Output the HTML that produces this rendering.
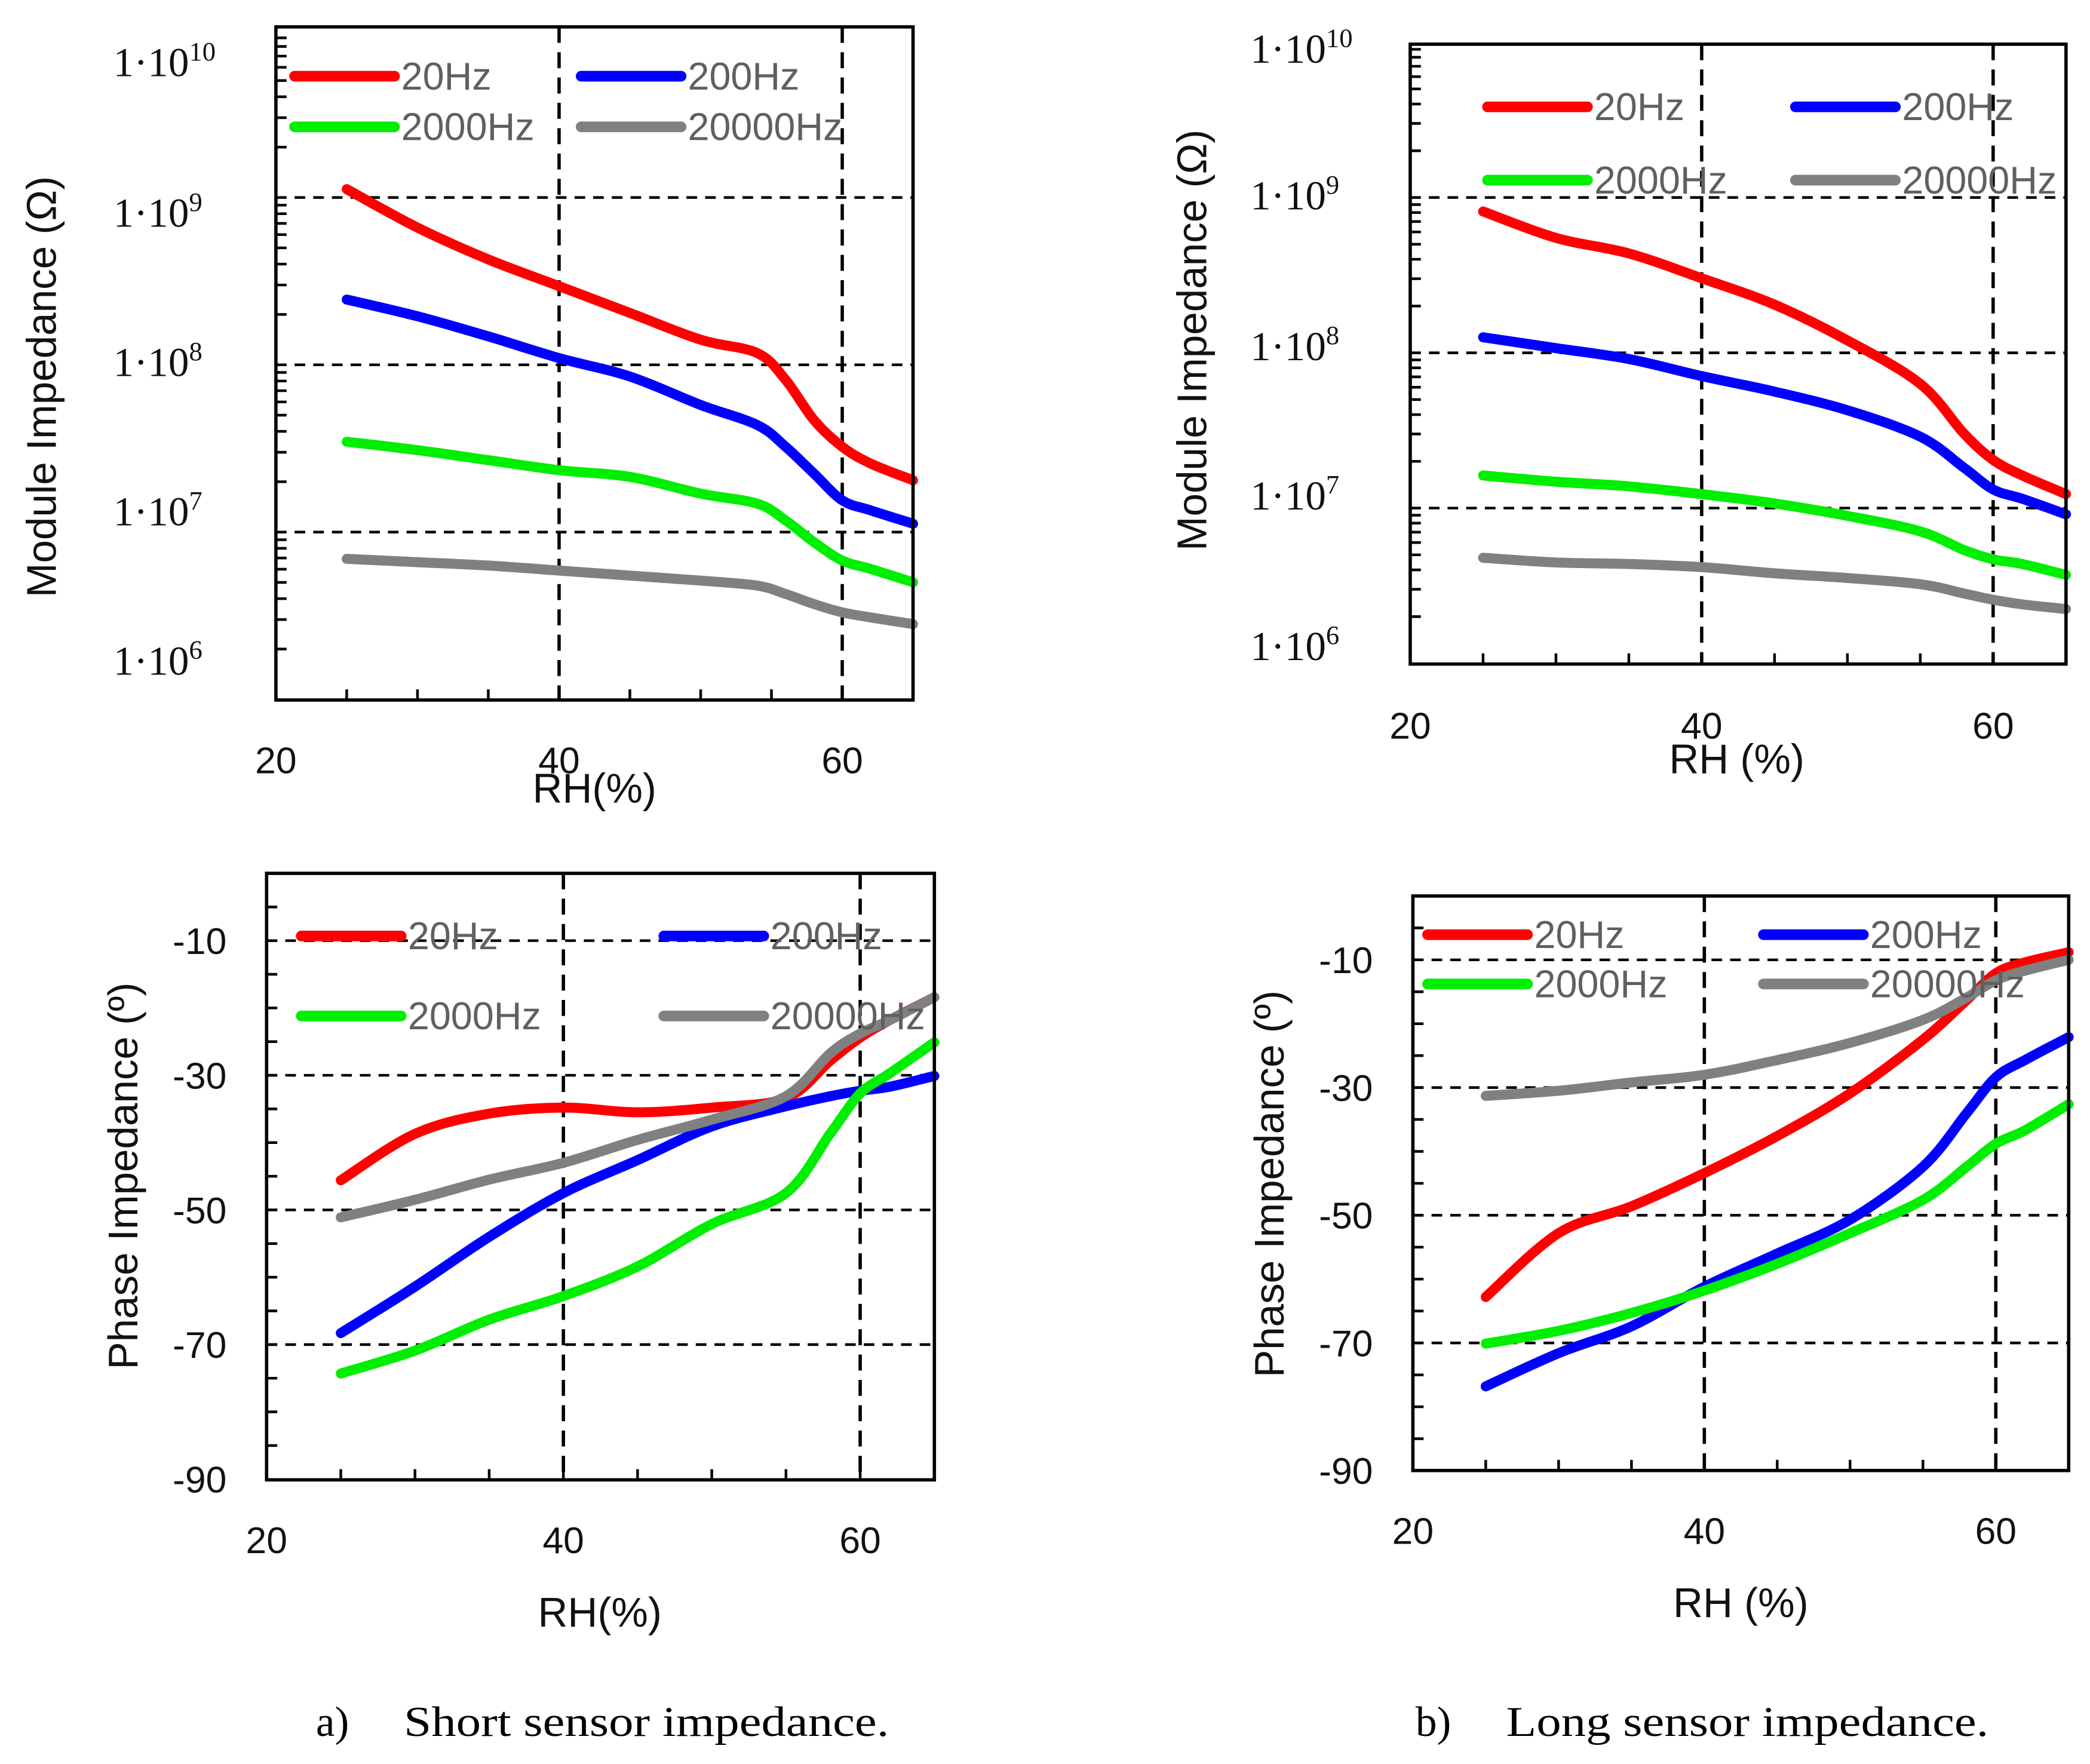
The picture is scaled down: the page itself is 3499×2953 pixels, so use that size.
<!DOCTYPE html>
<html><head><meta charset="utf-8"><style>
html,body{margin:0;padding:0;background:#fff;}
svg{display:block;}
</style></head><body>
<svg id="fig" width="3499" height="2953" viewBox="0 0 1568 1323" xmlns="http://www.w3.org/2000/svg">
<rect width="1568" height="1323" fill="#fff"/>
<g id="root"></g>
<text x="237" y="1302" font-family="Liberation Serif, serif" font-size="32" fill="#000">a)</text>
<text x="303" y="1302" font-family="Liberation Serif, serif" font-size="32" fill="#000" textLength="364" lengthAdjust="spacingAndGlyphs">Short sensor impedance.</text>
<text x="1062" y="1302" font-family="Liberation Serif, serif" font-size="32" fill="#000">b)</text>
<text x="1130" y="1302" font-family="Liberation Serif, serif" font-size="32" fill="#000" textLength="362" lengthAdjust="spacingAndGlyphs">Long sensor impedance.</text>
</svg>
<script>
const rhValuesA = [25,30,35,40,45,50,54,56,58,60,62,65];
const logRedA = [9.05,8.82,8.63,8.47,8.31,8.15,8.07,7.91,7.67,7.51,7.41,7.31];
const logBlueA = [8.39,8.29,8.17,8.04,7.93,7.76,7.64,7.51,7.35,7.19,7.13,7.05];
const logGreenA = [7.54,7.49,7.43,7.37,7.33,7.23,7.17,7.07,6.94,6.83,6.78,6.70];
const logGrayA = [6.84,6.82,6.80,6.77,6.74,6.71,6.68,6.63,6.57,6.52,6.49,6.45];

const rhValuesB = [25,30,35,40,45,50,55,58,60,62,65];
const logRedB = [8.91,8.74,8.64,8.48,8.31,8.08,7.80,7.48,7.31,7.21,7.09];
const logBlueB = [8.10,8.03,7.96,7.85,7.75,7.63,7.46,7.26,7.12,7.06,6.96];
const logGreenB = [7.21,7.17,7.14,7.09,7.03,6.95,6.85,6.73,6.67,6.64,6.57];
const logGrayB = [6.68,6.65,6.64,6.62,6.58,6.55,6.51,6.45,6.41,6.38,6.35];

const rhValuesC = [25,30,35,40,45,50,55,58,60,62,65];
const phaseRedC = [-45.6,-38.7,-35.7,-34.8,-35.5,-34.8,-33.4,-27.8,-24.4,-21.8,-18.4];
const phaseBlueC = [-68.3,-61.4,-54.0,-47.5,-42.6,-37.6,-34.6,-33.1,-32.3,-31.7,-30.1];
const phaseGreenC = [-74.3,-70.9,-66.3,-62.8,-58.4,-52.1,-47.5,-38.6,-32.7,-29.7,-25.1];
const phaseGrayC = [-51.1,-48.5,-45.5,-43.0,-39.6,-36.6,-33.1,-26.7,-23.8,-21.8,-18.4];

const rhValuesD = [25,30,35,40,45,50,55,58,60,62,65];
const phaseRedD = [-62.8,-52.8,-48.6,-43.4,-37.6,-30.9,-22.5,-16.3,-12.1,-10.4,-8.8];
const phaseBlueD = [-76.8,-71.6,-67.4,-61.2,-56.0,-50.7,-42.4,-34.0,-28.4,-25.7,-22.1];
const phaseGreenD = [-70.1,-68.1,-65.3,-61.8,-57.6,-52.8,-47.6,-42.4,-38.8,-36.7,-32.6];
const phaseGrayD = [-31.3,-30.5,-29.2,-28.0,-25.7,-23.0,-19.4,-15.9,-13.2,-11.7,-10.0];

const xTickLabels = ["20","40","60"];
const xTickValues = [20,40,60];
const logTickExps = [10,9,8,7,6];
const phaseTickValues = [-10,-30,-50,-70,-90];
const seriesNames = ["20Hz","200Hz","2000Hz","20000Hz"];

const NS="http://www.w3.org/2000/svg";
const root=document.getElementById('root');
const COLORS=["#ff0000","#0000ff","#00ee00","#808080"];
const SANS="Liberation Sans, DejaVu Sans, sans-serif";
function mk(tag,attrs,parent){const e=document.createElementNS(NS,tag);for(const k in attrs)e.setAttribute(k,attrs[k]);(parent||root).appendChild(e);return e;}
function smooth(pts){let d=`M${pts[0][0]},${pts[0][1]}`;for(let i=0;i<pts.length-1;i++){const p0=pts[i-1]||pts[i],p1=pts[i],p2=pts[i+1],p3=pts[i+2]||p2;const c1=[p1[0]+(p2[0]-p0[0])/6,p1[1]+(p2[1]-p0[1])/6],c2=[p2[0]-(p3[0]-p1[0])/6,p2[1]-(p3[1]-p1[1])/6];d+=` C${c1[0]},${c1[1]} ${c2[0]},${c2[1]} ${p2[0]},${p2[1]}`;}return d;}

function panel(cfg){
  const g=mk('g',{});
  
  
  const X=v=>cfg.x0+(v-20)*(cfg.x1-cfg.x0)/45;
  const Y=cfg.Y;
  cfg.grids.forEach(v=>{const y=Y(v);const l=mk('line',{x1:cfg.x0,x2:cfg.x1,y1:y,y2:y,stroke:'#000','stroke-width':2,'stroke-dasharray':'8,6'},g);
    
    });
  [40,60].forEach(v=>{const x=X(v);const l=mk('line',{x1:x,x2:x,y1:cfg.y0,y2:cfg.y1,stroke:'#000','stroke-width':2.5,'stroke-dasharray':'12,7'},g);
    
    });
  for(let v=25;v<65;v+=5){const x=X(v);mk('line',{x1:x,x2:x,y1:cfg.y1,y2:cfg.y1-8,stroke:'#000','stroke-width':2},g);}
  cfg.yMinor.forEach(y=>mk('line',{x1:cfg.x0,x2:cfg.x0+8,y1:y,y2:y,stroke:'#000','stroke-width':2},g));
  cfg.series.forEach((s,i)=>{const p=mk('path',{d:smooth(cfg.rh.map((r,j)=>[X(r),Y(s[j])])),fill:'none',stroke:COLORS[i],'stroke-width':7.5,'stroke-linecap':'round','stroke-linejoin':'round'},g);
    
    });
  const fr=mk('rect',{x:cfg.x0,y:cfg.y0,width:cfg.x1-cfg.x0,height:cfg.y1-cfg.y0,fill:'none',stroke:'#000','stroke-width':2.5},g);
  
  
  cfg.legend.forEach((L,i)=>{const lg=mk('g',{},g);
    
    
    mk('line',{x1:L[0],x2:L[0]+75,y1:L[1],y2:L[1],stroke:COLORS[i],'stroke-width':8,'stroke-linecap':'round'},lg);
    const t=mk('text',{x:L[0]+80,y:L[1]+10,'font-family':SANS,'font-size':29,fill:'#606060'},lg);t.textContent=seriesNames[i];});
  xTickValues.forEach((v,i)=>{const t=mk('text',{x:X(v),y:cfg.xly,'text-anchor':'middle','font-family':SANS,'font-size':28,fill:'#111'},g);t.textContent=xTickLabels[i];
    
    });
  const xt=mk('text',{x:cfg.xt[0],y:cfg.xt[1],'text-anchor':'middle','font-family':SANS,'font-size':31,fill:'#111'},g);xt.textContent=cfg.xtitle;
  
  
  const yt=mk('text',{x:0,y:0,transform:`translate(${cfg.yt[0]},${cfg.yt[1]}) rotate(-90)`,'text-anchor':'middle','font-family':SANS,'font-size':31,fill:'#111'},g);yt.textContent=cfg.ytitle;
  
  
  cfg.ylabels(g);
}

function logMinor(Y,lo,hi){const a=[];for(let e=lo;e<hi;e++)for(let m=2;m<=9;m++)a.push(Y(e+Math.log10(m)));return a;}
function logLabels(xr,ys){return g=>{logTickExps.forEach((e,i)=>{const t=mk('text',{x:xr,y:ys[i],'font-family':'Liberation Serif, serif','font-size':31,fill:'#111'},g);
  
  
  t.appendChild(document.createTextNode('1·10'));const s=document.createElementNS(NS,'tspan');s.setAttribute('dy','-12');s.setAttribute('font-size','20');s.textContent=e;t.appendChild(s);});};}
function phaseLabels(xr,Y){return g=>{phaseTickValues.forEach(v=>{const t=mk('text',{x:xr,y:Y(v)+10,'text-anchor':'end','font-family':SANS,'font-size':28,fill:'#111'},g);t.textContent=v;
  
  });};}

(()=>{const Y=v=>148-(v-9)*125.5;
panel({name:'panel-a-module',x0:207,x1:685,y0:20,y1:525,Y,rh:rhValuesA,series:[logRedA,logBlueA,logGreenA,logGrayA],
grids:[9,8,7],yMinor:logMinor(Y,6,10),legend:[[221,57],[436,57],[221,95],[436,95]],xly:580,xt:[446,602],xtitle:'RH(%)',
yt:[42,290],ytitle:'Module Impedance (Ω)',ylabels:logLabels(85,[57,170,282,394,506])});})();
(()=>{const Y=v=>148-(v-9)*116.5;
panel({name:'panel-b-module',x0:1058,x1:1550,y0:33,y1:498,Y,rh:rhValuesB,series:[logRedB,logBlueB,logGreenB,logGrayB],
grids:[9,8,7],yMinor:logMinor(Y,6,10),legend:[[1116,80],[1347,80],[1116,135],[1347,135]],xly:554,xt:[1303,580],xtitle:'RH (%)',
yt:[905,255],ytitle:'Module Impedance (Ω)',ylabels:logLabels(938,[47,157,270,382,495])});})();
(()=>{const Y=v=>655-v*5.05;
const minor=[];for(let v=-5;v>-90;v-=5)minor.push(Y(v));
panel({name:'panel-c-phase',x0:200,x1:701,y0:655,y1:1110,Y,rh:rhValuesC,series:[phaseRedC,phaseBlueC,phaseGreenC,phaseGrayC],
grids:[-10,-30,-50,-70],yMinor:minor,legend:[[226,702],[498,702],[226,762],[498,762]],xly:1165,xt:[450,1220],xtitle:'RH(%)',
yt:[103,882],ytitle:'Phase Impedance (º)',ylabels:phaseLabels(170,Y)});})();
(()=>{const Y=v=>672-v*4.79;
const minor=[];for(let v=-5;v>-90;v-=5)minor.push(Y(v));
panel({name:'panel-d-phase',x0:1060,x1:1552,y0:672,y1:1103,Y,rh:rhValuesD,series:[phaseRedD,phaseBlueD,phaseGreenD,phaseGrayD],
grids:[-10,-30,-50,-70],yMinor:minor,legend:[[1071,701],[1323,701],[1071,738],[1323,738]],xly:1158,xt:[1306,1213],xtitle:'RH (%)',
yt:[963,888],ytitle:'Phase Impedance (º)',ylabels:phaseLabels(1030,Y)});})();
</script>
</body></html>
